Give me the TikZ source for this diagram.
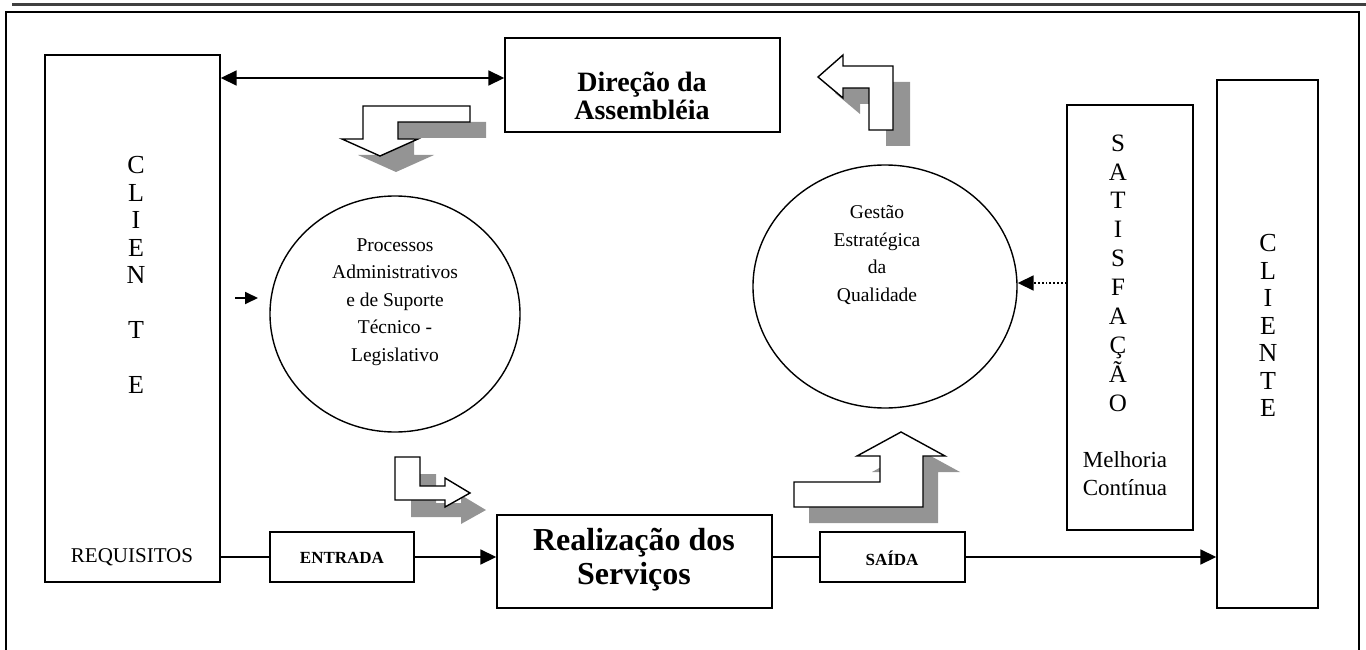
\documentclass[tikz,border=0pt]{standalone}
\usepackage{fontspec}
\setmainfont{Liberation Serif}
\usetikzlibrary{arrows.meta,shapes.geometric}
\begin{document}
\begin{tikzpicture}[x=1pt,y=-1pt,
  box/.style={draw, line width=1.4pt, inner sep=0pt},
  circ/.style={draw, ellipse, line width=1.4pt, inner sep=0pt},
  conn/.style={line width=1.8pt},
  tip/.style={-{Triangle[length=16pt,width=15pt]}},
  shad/.style={fill=black!42},
  blk/.style={draw, fill=white, line width=1.4pt, line join=miter},
  txt/.style={inner sep=0pt, align=center},
  arrA/.style={insert path={(470,106) -- (363,106) -- (363,139) -- (342,139) -- (380,156) -- (418,139) -- (398,139) -- (398,122) -- (470,122) -- cycle}},
  arrB/.style={insert path={(818,77) -- (843,55) -- (843,66) -- (893,66) -- (893,130) -- (869,130) -- (869,88) -- (843,88) -- (843,98) -- cycle}},
  arrC/.style={insert path={(395,457) -- (420,457) -- (420,486) -- (445,486) -- (445,478) -- (470,493) -- (445,507) -- (445,500) -- (395,500) -- cycle}},
  arrD/.style={insert path={(901,432) -- (945,456) -- (923,456) -- (923,507) -- (794,507) -- (794,482) -- (880,482) -- (880,456) -- (857,456) -- cycle}}
]
\useasboundingbox (0,0) rectangle (1366,650);
% page rules
\draw[line width=3pt, black!75] (12,5) -- (1366,5);
\draw[line width=1.2pt] (6,650) -- (6,12) -- (1359,12) -- (1359,650);

% boxes
\node[box, minimum width=175pt, minimum height=527pt] (cl1) at (132.5,318.5) {};
\node[box, minimum width=275pt, minimum height=94pt] (dir) at (642.5,85) {};
\node[box, minimum width=275pt, minimum height=93pt] (real) at (634.5,561.5) {};
\node[box, minimum width=144pt, minimum height=50pt] (ent) at (342,557) {};
\node[box, minimum width=145pt, minimum height=50pt] (sai) at (892.5,557) {};
\node[box, minimum width=126pt, minimum height=425pt] (sat) at (1130,317.5) {};
\node[box, minimum width=101pt, minimum height=528pt] (cl2) at (1267.5,344) {};

% circles
\node[circ, minimum width=250pt, minimum height=236pt] (c1) at (395,314) {};
\node[circ, minimum width=264pt, minimum height=243pt] (c2) at (885,286.5) {};

% texts
\node[txt, font=\fontsize{26}{27.5}\selectfont] (cl1t) at (136,275) {C\\L\\I\\E\\N\\[27.5pt]T\\[27.5pt]E};
\node[txt, font=\fontsize{21}{24}\selectfont] (req) at (132,557) {REQUISITOS};
\node[txt, font=\bfseries\fontsize{28}{28}\selectfont] (dirt) at (642,96) {Direção da\\Assembléia};
\node[txt, font=\bfseries\fontsize{32}{34}\selectfont] (realt) at (634,560) {Realização dos\\Serviços};
\node[txt, font=\bfseries\fontsize{17}{20}\selectfont] (entt) at (342,558) {ENTRADA};
\node[txt, font=\bfseries\fontsize{17}{20}\selectfont] (sait) at (892,558) {SAÍDA};
\node[txt, font=\fontsize{19.5}{27.5}\selectfont] (c1t) at (395,302) {Processos\\Administrativos\\e de Suporte\\Técnico -\\Legislativo};
\node[txt, font=\fontsize{19.5}{27.5}\selectfont] (c2t) at (877,255) {Gestão\\Estratégica\\da\\Qualidade};
\node[txt, font=\fontsize{25}{28.9}\selectfont] (satt) at (1118,273) {S\\A\\T\\I\\S\\F\\A\\Ç\\Ã\\O};
\node[txt, font=\fontsize{23}{28}\selectfont] (melt) at (1125,474) {Melhoria\\Contínua};
\node[txt, font=\fontsize{26}{27.5}\selectfont] (cl2t) at (1268,325.5) {C\\L\\I\\E\\N\\T\\E};

% block arrows with shadows
\fill[shad, shift={(16,16)}, arrA];
\path[blk, arrA];
\fill[shad, shift={(17,16)}, arrB];
\path[blk, arrB];
\fill[shad, shift={(16,17)}, arrC];
\path[blk, arrC];
\fill[shad, shift={(15,16)}, arrD];
\path[blk, arrD];

% connectors
\draw[conn, {Triangle[length=16pt,width=15pt]}-{Triangle[length=16pt,width=15pt]}] (cl1.east |- 0,78) -- (dir.west |- 0,78);
\coordinate (sa) at (235,298);
\coordinate (sb) at (258,298);
\draw[conn, -{Triangle[length=13pt,width=12pt]}] (sa) -- (sb);
\draw[conn, dotted, tip] (sat.west |- 0,283) -- (c2.east |- 0,283);
\draw[conn] (cl1.east |- ent.west) -- (ent.west);
\draw[conn, tip] (ent.east) -- (real.west |- ent.east);
\draw[conn] (real.east |- sai.west) -- (sai.west);
\draw[conn, tip] (sai.east) -- (cl2.west |- sai.east);
\end{tikzpicture}
\end{document}
